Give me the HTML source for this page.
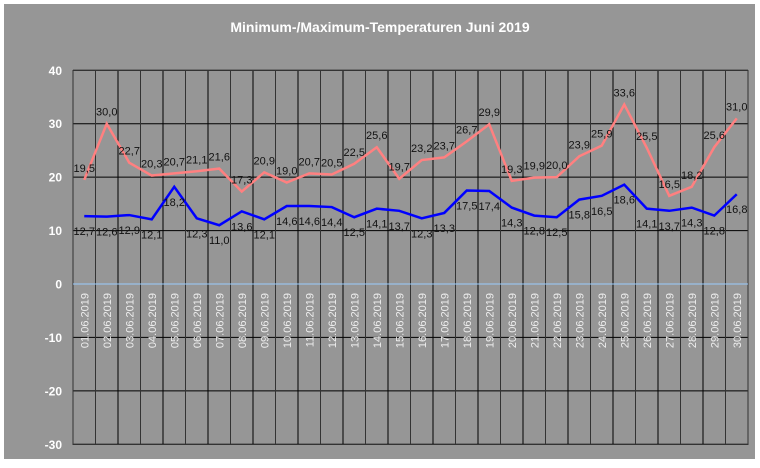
<!DOCTYPE html>
<html><head><meta charset="utf-8"><style>
html,body{margin:0;padding:0;background:#fff;}
svg{display:block;font-family:"Liberation Sans",Arial,sans-serif;}
</style></head><body>
<svg id="c" width="760" height="468" xmlns="http://www.w3.org/2000/svg">
<rect x="4" y="4" width="751" height="455" fill="#969696"/>
<text x="380" y="32" text-anchor="middle" font-size="14" font-weight="bold" fill="#fff">Minimum-/Maximum-Temperaturen Juni 2019</text>
<g id="g"></g>
</svg>
<script>
var mx=[19.5,30.0,22.7,20.3,20.7,21.1,21.6,17.3,20.9,19.0,20.7,20.5,22.5,25.6,19.7,23.2,23.7,26.7,29.9,19.3,19.9,20.0,23.9,25.9,33.6,25.5,16.5,18.2,25.6,31.0];
var mn=[12.7,12.6,12.9,12.1,18.2,12.3,11.0,13.6,12.1,14.6,14.6,14.4,12.5,14.1,13.7,12.3,13.3,17.5,17.4,14.3,12.8,12.5,15.8,16.5,18.6,14.1,13.7,14.3,12.8,16.8];
var L=73,R=748,T=70.5,B=444.5,w=(R-L)/30;
function Y(v){return 284-v*5.343;}
function X(i){return L+w*(i+0.5);}
var s='';
for(var v=-30;v<=40;v+=10){var y=Y(v);
 if(v!==0)s+='<line x1="'+L+'" x2="'+R+'" y1="'+y+'" y2="'+y+'" stroke="#000" stroke-width="1"/>';
 s+='<text x="62" y="'+(y+4.5)+'" text-anchor="end" font-size="12" font-weight="bold" fill="#fff">'+v+'</text>';}
for(var i=0;i<=30;i++){var x=L+w*i;s+='<line x1="'+x+'" x2="'+x+'" y1="'+T+'" y2="'+B+'" stroke="'+(i%2?'#333':'#000')+'" stroke-width="1"/>';}
s+='<rect x="'+L+'" y="'+T+'" width="'+(R-L)+'" height="'+(B-T)+'" fill="none" stroke="#333"/>';
s+='<line x1="'+L+'" x2="'+R+'" y1="284" y2="284" stroke="#99ccff" stroke-width="1"/>';
for(var i=0;i<30;i++){var d=(i<9?'0':'')+(i+1)+'.06.2019';var x=X(i)+4;
 s+='<text transform="translate('+x+',293) rotate(-90)" text-anchor="end" font-size="11" fill="#eee">'+d+'</text>';}
function pl(a,c){var p=a.map(function(v,i){return X(i)+','+Y(v);}).join(' ');return '<polyline points="'+p+'" fill="none" stroke="'+c+'" stroke-width="2.5"/>';}
s+=pl(mx,'#ff8080')+pl(mn,'#0000ff');
for(var i=0;i<30;i++){
 s+='<text x="'+X(i)+'" y="'+(Y(mx[i])-8)+'" text-anchor="middle" font-size="11" fill="#111">'+mx[i].toFixed(1).replace('.',',')+'</text>';
 s+='<text x="'+X(i)+'" y="'+(Y(mn[i])+19)+'" text-anchor="middle" font-size="11" fill="#111">'+mn[i].toFixed(1).replace('.',',')+'</text>';}
document.getElementById('g').innerHTML=s;
</script>
</body></html>
